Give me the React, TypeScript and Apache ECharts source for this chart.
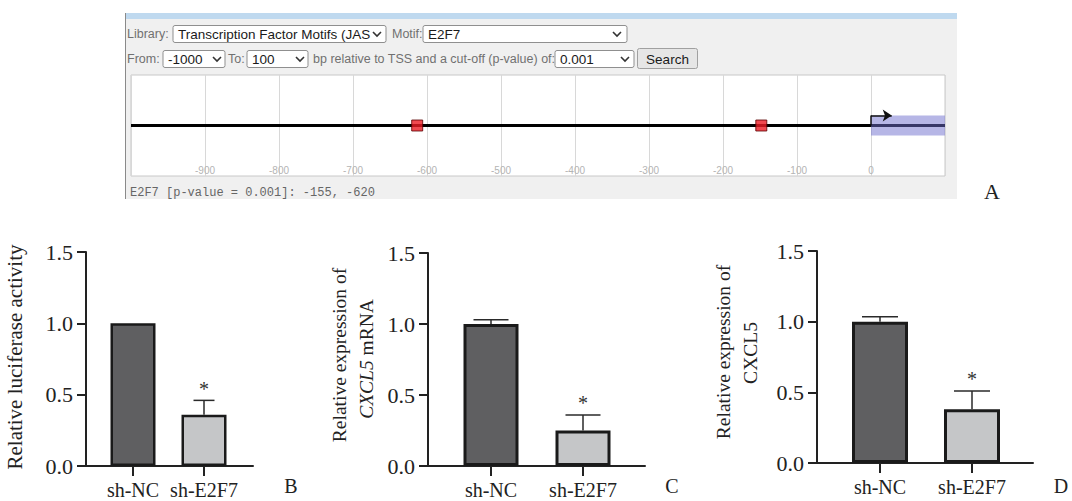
import React, { useEffect, useRef } from "react";
import * as echarts from "echarts";

// ---------- data ----------
const trackMin = -1000;
const trackMax = 100;
const trackStep = 100;
const motifName = "E2F7";
const libraryName = "Transcription Factor Motifs (JAS";
const fromValue = "-1000";
const toValue = "100";
const pValueCutoff = "0.001";
const bindingSites = [-155, -620];
const tssRange = [0, 100];
const tssArrowLength = 28;

const groups = ["sh-NC", "sh-E2F7"];
const luciferaseMean = [1.0, 0.36];
const luciferaseSd = [0, 0.1];
const mrnaMean = [1.0, 0.25];
const mrnaSd = [0.03, 0.11];
const proteinMean = [1.0, 0.38];
const proteinSd = [0.035, 0.13];
const significance = ["", "*"];
const yMin = 0;
const yMax = 1.5;
const yStep = 0.5;

// ---------- layout / style ----------
const serif = "Liberation Serif, Times New Roman, serif";
const sans = "Liberation Sans, Arial, sans-serif";
const mono = "Liberation Mono, DejaVu Sans Mono, monospace";
const ink = "#222";
const barFills = ["#5f5f61", "#c5c6c8"];

const panels = [
  { mean: luciferaseMean, sd: luciferaseSd, left: 86, top: 252, width: 167, height: 214, innerLeft: 97.5, innerWidth: 142, barWidth: 45, border: 2.5, cap: 21, tickFont: 22, catFont: 20 },
  { mean: mrnaMean, sd: mrnaSd, left: 428, top: 253, width: 217, height: 213, innerLeft: 445, innerWidth: 184, barWidth: 55, border: 3, cap: 35, tickFont: 22, catFont: 20 },
  { mean: proteinMean, sd: proteinSd, left: 817, top: 251, width: 216, height: 212, innerLeft: 834, innerWidth: 184, barWidth: 56, border: 3, cap: 36, tickFont: 22, catFont: 20 },
];

function txt(x: number, y: number, text: string, o: any = {}) {
  return {
    type: "text",
    x,
    y,
    rotation: o.rotation || 0,
    z: 10,
    style: {
      text,
      fontFamily: o.fontFamily || sans,
      fontSize: o.fontSize || 12.5,
      fontStyle: o.fontStyle || "normal",
      fill: o.fill || "#707070",
      align: o.align || "left",
      verticalAlign: "middle",
      rich: o.rich,
    },
  };
}

function selectBox(x: number, y: number, w: number, h: number, label: string, chevX: number) {
  const cy = y + h / 2;
  return [
    { type: "rect", z: 5, shape: { x, y, width: w, height: h, r: 2 }, style: { fill: "#fff", stroke: "#8f8f8f", lineWidth: 1 } },
    txt(x + 5, cy + 0.5, label, { fontSize: 13.5, fill: "#1a1a1a" }),
    { type: "rect", z: 9, shape: { x: chevX - 6, y: y + 1, width: 11, height: h - 2 }, style: { fill: "#fff" } },
    { type: "polyline", z: 10, shape: { points: [[chevX - 4, cy - 2], [chevX, cy + 2], [chevX + 4, cy - 2]] }, style: { stroke: "#333", lineWidth: 1.6, fill: null } },
  ];
}

function buildOption() {
  const grids: any[] = [{ left: 131, top: 75, width: 814, height: 101, show: true, backgroundColor: "#fff", borderColor: "#c8c8c8", borderWidth: 1 }];
  const xAxes: any[] = [
    {
      gridIndex: 0,
      type: "value",
      min: trackMin,
      max: trackMax,
      interval: trackStep,
      axisLine: { show: false },
      axisTick: { show: false },
      axisLabel: { inside: true, margin: 1, color: "#b4b4b4", fontSize: 10, fontFamily: sans, showMinLabel: false, showMaxLabel: false },
      splitLine: { show: true, lineStyle: { color: "#d8d8d8", width: 1 } },
    },
  ];
  const yAxes: any[] = [{ gridIndex: 0, type: "value", min: -1, max: 1, show: false }];
  const series: any[] = [
    {
      type: "line",
      xAxisIndex: 0,
      yAxisIndex: 0,
      data: [[trackMin, 0], [trackMax, 0]],
      symbol: "none",
      lineStyle: { color: "#000", width: 3 },
      z: 2,
    },
    {
      type: "custom",
      xAxisIndex: 0,
      yAxisIndex: 0,
      z: 3,
      encode: { x: [0, 1] },
      data: [[tssRange[0], tssRange[1]]],
      renderItem: (params: any, api: any) => {
        const a = api.coord([api.value(0), 0.2]);
        const b = api.coord([api.value(1), -0.2]);
        return { type: "rect", shape: { x: a[0], y: a[1], width: b[0] - a[0], height: b[1] - a[1] }, style: { fill: "rgba(110,110,205,0.5)" } };
      },
    },
    {
      type: "lines",
      coordinateSystem: "cartesian2d",
      xAxisIndex: 0,
      yAxisIndex: 0,
      symbol: ["none", "none"],
      z: 4,
      lineStyle: { color: "#111", width: 1.5, opacity: 1 },
      data: [{ coords: [[tssRange[0], 0], [tssRange[0], 0.2]] }],
    },
    {
      type: "lines",
      coordinateSystem: "cartesian2d",
      xAxisIndex: 0,
      yAxisIndex: 0,
      symbol: ["none", "arrow"],
      symbolSize: 9,
      z: 4,
      lineStyle: { color: "#111", width: 1.5, opacity: 1 },
      data: [{ coords: [[tssRange[0], 0.2], [tssRange[0] + tssArrowLength, 0.2]] }],
    },
    {
      type: "scatter",
      xAxisIndex: 0,
      yAxisIndex: 0,
      symbol: "rect",
      symbolSize: 11,
      symbolOffset: [5, 0],
      z: 5,
      itemStyle: { color: "#ee1c24", borderColor: "#5a0000", borderWidth: 1 },
      data: bindingSites.map((s) => [s, 0]),
    },
  ];

  panels.forEach((p) => {
    const og = grids.length;
    grids.push({ left: p.left, top: p.top, width: p.width, height: p.height });
    grids.push({ left: p.innerLeft, top: p.top, width: p.innerWidth, height: p.height });
    xAxes.push({
      gridIndex: og,
      type: "value",
      min: 0,
      max: 1,
      axisLine: { show: true, lineStyle: { color: ink, width: 2 } },
      axisTick: { show: false },
      axisLabel: { show: false },
      splitLine: { show: false },
    });
    yAxes.push({
      gridIndex: og,
      type: "value",
      min: yMin,
      max: yMax,
      interval: yStep,
      axisLine: { show: true, lineStyle: { color: ink, width: 2 } },
      axisTick: { show: true, length: 9, lineStyle: { color: ink, width: 2 } },
      axisLabel: { margin: 13, color: ink, fontSize: p.tickFont, fontFamily: serif, formatter: (v: number) => v.toFixed(1) },
      splitLine: { show: false },
    });
    xAxes.push({
      gridIndex: og + 1,
      type: "category",
      data: groups,
      axisLine: { show: false },
      axisTick: { show: true, alignWithLabel: true, length: 10, lineStyle: { color: ink, width: 2 } },
      axisLabel: { interval: 0, hideOverlap: false, margin: 14, color: ink, fontSize: p.catFont, fontFamily: serif },
    });
    yAxes.push({ gridIndex: og + 1, type: "value", min: yMin, max: yMax, show: false });

    series.push({
      type: "bar",
      xAxisIndex: og + 1,
      yAxisIndex: og + 1,
      barWidth: p.barWidth,
      z: 3,
      itemStyle: { borderColor: "#1a1a1a", borderWidth: p.border },
      data: p.mean.map((v, i) => ({ value: v, itemStyle: { color: barFills[i] } })),
    });
    series.push({
      type: "custom",
      xAxisIndex: og + 1,
      yAxisIndex: og + 1,
      z: 6,
      encode: { x: 0, y: 1 },
      data: p.mean.map((v, i) => [i, v, p.sd[i]]),
      renderItem: (params: any, api: any) => {
        const i = api.value(0);
        const m = api.value(1);
        const e = api.value(2);
        const children: any[] = [];
        const base = api.coord([i, m]);
        const top = api.coord([i, m + e]);
        if (e > 0) {
          children.push({ type: "line", shape: { x1: base[0], y1: base[1], x2: top[0], y2: top[1] }, style: { stroke: "#2a2a2a", lineWidth: 1.5 } });
          children.push({ type: "line", shape: { x1: top[0] - p.cap / 2, y1: top[1], x2: top[0] + p.cap / 2, y2: top[1] }, style: { stroke: "#2a2a2a", lineWidth: 1.5 } });
        }
        const mark = significance[params.dataIndex];
        if (mark) {
          children.push({
            type: "text",
            x: top[0],
            y: top[1] - 11.5,
            style: { text: mark, fontFamily: serif, fontSize: 20, fill: "#333", align: "center", verticalAlign: "middle" },
          });
        }
        return { type: "group", children };
      },
    });
  });

  const graphic: any[] = [
    { type: "rect", z: -2, shape: { x: 125, y: 13, width: 832, height: 186 }, style: { fill: "#f0f0f0" } },
    { type: "rect", z: -1, shape: { x: 125, y: 13, width: 832, height: 6 }, style: { fill: "#bfd9ef" } },
    { type: "line", z: -1, shape: { x1: 125.5, y1: 13, x2: 125.5, y2: 199 }, style: { stroke: "#8a8a8a", lineWidth: 1 } },
    txt(127, 34, "Library:"),
    ...selectBox(173, 25.5, 213, 17, libraryName, 377),
    txt(392, 34, "Motif:"),
    ...selectBox(423, 25.5, 204, 17, motifName, 617),
    txt(127, 59, "From:"),
    ...selectBox(163, 50.5, 62, 17, fromValue, 217),
    txt(228, 59, "To:"),
    ...selectBox(247, 50.5, 61, 17, toValue, 300),
    txt(313, 59, "bp relative to TSS and a cut-off (p-value) of:"),
    ...selectBox(555, 50.5, 79, 17, pValueCutoff, 625),
    { type: "rect", z: 5, shape: { x: 637.5, y: 48.5, width: 60, height: 20, r: 2 }, style: { fill: "#e6e6e6", stroke: "#a0a0a0", lineWidth: 1 } },
    txt(667.5, 59, "Search", { fontSize: 13.5, fill: "#1a1a1a", align: "center" }),
    txt(130, 193, `${motifName} [p-value = ${pValueCutoff}]: ${bindingSites.join(", ")}`, { fontFamily: mono, fontSize: 12, fill: "#666" }),
    txt(992, 191, "A", { fontFamily: serif, fontSize: 22, fill: ink, align: "center" }),
    txt(291, 486, "B", { fontFamily: serif, fontSize: 20, fill: ink, align: "center" }),
    txt(672, 486, "C", { fontFamily: serif, fontSize: 20, fill: ink, align: "center" }),
    txt(1061, 486, "D", { fontFamily: serif, fontSize: 20, fill: ink, align: "center" }),
    txt(15, 357, "Relative luciferase activity", { fontFamily: serif, fontSize: 21, fill: ink, align: "center", rotation: Math.PI / 2 }),
    txt(339, 355, "Relative expression of", { fontFamily: serif, fontSize: 19.5, fill: ink, align: "center", rotation: Math.PI / 2 }),
    txt(366, 359, "{it|CXCL5} mRNA", {
      fontFamily: serif,
      fontSize: 19.5,
      fill: ink,
      align: "center",
      rotation: Math.PI / 2,
      rich: { it: { fontFamily: serif, fontSize: 19.5, fontStyle: "italic", fill: ink } },
    }),
    txt(723.5, 352, "Relative expression of", { fontFamily: serif, fontSize: 19.5, fill: ink, align: "center", rotation: Math.PI / 2 }),
    txt(750, 353, "CXCL5", { fontFamily: serif, fontSize: 19.5, fill: ink, align: "center", rotation: Math.PI / 2 }),
  ];

  return {
    animation: false,
    backgroundColor: "#fff",
    grid: grids,
    xAxis: xAxes,
    yAxis: yAxes,
    series,
    graphic,
  };
}

export default function App() {
  const ref = useRef<HTMLDivElement>(null);
  useEffect(() => {
    if (!ref.current) return;
    const chart = echarts.init(ref.current, undefined, { renderer: "svg" });
    chart.setOption(buildOption() as any);
    return () => chart.dispose();
  }, []);
  return <div ref={ref} style={{ position: "fixed", left: 0, top: 0, width: 1072, height: 501, background: "#fff" }} />;
}
